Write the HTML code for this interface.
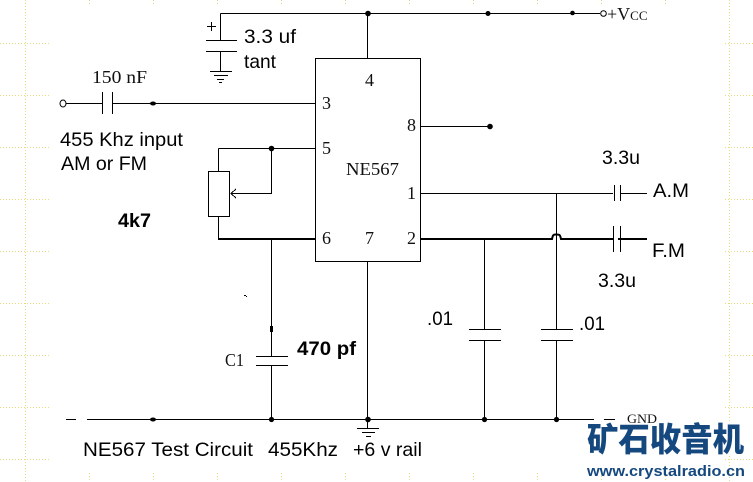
<!DOCTYPE html>
<html><head><meta charset="utf-8"><style>
html,body{margin:0;padding:0;background:#fff;width:753px;height:482px;overflow:hidden}
svg{display:block}
.s{font-family:"Liberation Sans",sans-serif;font-size:19.5px;fill:#000}
.b{font-weight:bold}
.m{font-family:"Liberation Serif",serif;font-size:18px;fill:#111}
</style></head><body>
<svg width="753" height="482" viewBox="0 0 753 482" xmlns="http://www.w3.org/2000/svg">
<g stroke="#e6dc7a" stroke-width="1" stroke-dasharray="1 2" shape-rendering="crispEdges" fill="none">
<path d="M25.5 0V482M729.5 0V482"/>
<path d="M0 43.5H50M0 95.5H50M0 147.5H50M0 199.5H50M0 251.5H50M0 303.5H50M0 355.5H50M0 407.5H50M0 459.5H50"/>
<path d="M725 43.5H753M725 95.5H753M725 147.5H753M725 199.5H753M725 251.5H753M725 303.5H753M725 355.5H753M725 407.5H753M725 459.5H753"/>
<path d="M89.5 0V4M153.5 0V4M217.5 0V4M281.5 0V4M345.5 0V4M409.5 0V4M473.5 0V4M537.5 0V4M601.5 0V4M665.5 0V4"/>
<path d="M89.5 473V481M153.5 473V481M217.5 473V481M281.5 473V481M345.5 473V481M409.5 473V481M473.5 473V481M537.5 473V481M601.5 473V481M665.5 473V481"/>
</g>
<g stroke="#000" stroke-width="1" fill="none" shape-rendering="crispEdges">
<path d="M220.5 13.5H600M220.5 13.5V40M206 40.5H237M206 51.5H237M220.5 52V71"/>
<path d="M210 71.5H232M214 75.5H228M217 79.5H224M219 82.5H222"/>
<path d="M207 26.5H216M211.5 22V31"/>
<rect x="315.5" y="58.5" width="105" height="203"/>
<path d="M367.5 13V58M367.5 262V419"/>
<path d="M66 103.5H102M113 103.5H315M102.5 92V114M112.5 92V114"/>
<path d="M218.5 148.5H315M218.5 148.5V171M271.5 148.5V193.5H231"/>
<rect x="208.5" y="171.5" width="21" height="45"/>
<path d="M218.5 217V239"/>
<path d="M236 189L231 193.5L236 198"/>
<path d="M271.5 239V356M271.5 365V419M256 356.5H288M256 365.5H288"/>
<path d="M421 126.5H490"/>
<path d="M421 193.5H613M620 193.5H647M614.5 185V201M620.5 185V201"/>
<path d="M556.5 193V329M556.5 340V419M541 329.5H573M541 340.5H573"/>
<path d="M484.5 239V329M484.5 340V419M469 329.5H501M469 340.5H501"/>
<path d="M613.5 226V252M620.5 226V252"/>
<path d="M66 419.5H76M87 419.5H594M604 419.5H615"/>
<path d="M367.5 419V428M357 428.5H379M362 432.5H375M366 436.5H371"/>
</g>
<g stroke="#000" stroke-width="2" fill="none">
<path d="M218 239H315M421 239H552C553 234 554 234.5 556 234.5C559 234.5 560 234 561 239H613M618 239H647"/>
</g>
<g fill="#000">
<circle cx="368" cy="13.5" r="2.8"/><circle cx="488" cy="13.5" r="2.5"/><circle cx="572.5" cy="13" r="2.3"/>
<ellipse cx="153" cy="103.5" rx="3" ry="2"/>
<circle cx="271.5" cy="148.5" r="2.8"/><circle cx="490" cy="126.5" r="2.8"/>
<rect x="270" y="326" width="3" height="6"/>
<ellipse cx="153" cy="419.5" rx="3" ry="2"/>
<circle cx="271.5" cy="419.5" r="2.6"/><circle cx="368" cy="419.5" r="2.8"/><circle cx="484.5" cy="419.5" r="2.6"/><circle cx="556.5" cy="419.5" r="2.6"/>
<rect x="244" y="295" width="2" height="1"/><rect x="246" y="296" width="1" height="1"/>
</g>
<ellipse cx="63" cy="103.5" rx="3" ry="3.5" fill="#fff" stroke="#000"/>
<circle cx="603.5" cy="13.5" r="2.8" fill="#fff" stroke="#000"/>
<g class="m">
<text x="92" y="83" textLength="55" lengthAdjust="spacingAndGlyphs">150 nF</text>
<text x="322" y="109">3</text><text x="322" y="154">5</text><text x="322" y="244">6</text>
<text x="365" y="86">4</text><text x="365" y="244">7</text>
<text x="407" y="131">8</text><text x="407" y="199">1</text><text x="407" y="244">2</text>
<text x="346" y="175" textLength="53" lengthAdjust="spacingAndGlyphs">NE567</text>
<text x="225" y="366" textLength="19" lengthAdjust="spacingAndGlyphs">C1</text>
<text x="607" y="20">+V<tspan font-size="13">CC</tspan></text>
<text x="627" y="423" textLength="30" font-size="13" lengthAdjust="spacingAndGlyphs">GND</text>
</g>
<g class="s">
<text x="244" y="43" textLength="52" lengthAdjust="spacingAndGlyphs">3.3 uf</text>
<text x="244" y="68" textLength="32" lengthAdjust="spacingAndGlyphs">tant</text>
<text x="60" y="146" textLength="123" lengthAdjust="spacingAndGlyphs">455 Khz input</text>
<text x="61" y="170" textLength="86" lengthAdjust="spacingAndGlyphs">AM or FM</text>
<text class="b" x="118" y="227" textLength="33" lengthAdjust="spacingAndGlyphs">4k7</text>
<text x="602" y="164" textLength="38" lengthAdjust="spacingAndGlyphs">3.3u</text>
<text x="653" y="197" textLength="36" lengthAdjust="spacingAndGlyphs">A.M</text>
<text x="652" y="257" textLength="33" lengthAdjust="spacingAndGlyphs">F.M</text>
<text x="598" y="287" textLength="38" lengthAdjust="spacingAndGlyphs">3.3u</text>
<text x="427" y="325" textLength="26" lengthAdjust="spacingAndGlyphs">.01</text>
<text x="579" y="330" textLength="26" lengthAdjust="spacingAndGlyphs">.01</text>
<text class="b" x="297" y="355" textLength="59" lengthAdjust="spacingAndGlyphs">470 pf</text>
<text x="83" y="456" textLength="170" lengthAdjust="spacingAndGlyphs">NE567 Test Circuit</text>
<text x="268" y="456" textLength="70" lengthAdjust="spacingAndGlyphs">455Khz</text>
<text x="353" y="456" textLength="69" lengthAdjust="spacingAndGlyphs">+6 v rail</text>
</g>
<rect x="585" y="423" width="162" height="31" fill="#fff"/>
<text x="587" y="451" textLength="157" lengthAdjust="spacingAndGlyphs" style="font-family:'Liberation Sans','Noto Sans CJK SC',sans-serif;font-weight:900;font-size:33px;fill:#15487f">矿石收音机</text>
<text x="587" y="476" textLength="158" lengthAdjust="spacingAndGlyphs" style="font-family:'Liberation Sans',sans-serif;font-weight:bold;font-size:15px;fill:#15487f">www.crystalradio.cn</text>
</svg>
</body></html>
